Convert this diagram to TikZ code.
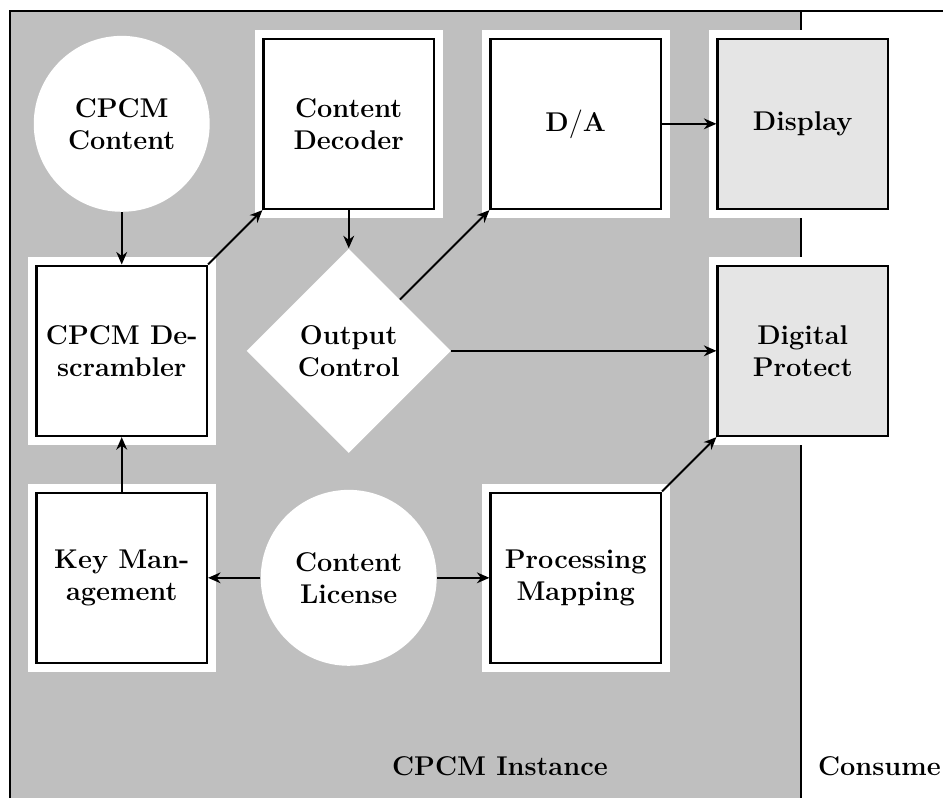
\documentclass[tikz,border=0pt]{standalone}
\usetikzlibrary{shapes.geometric,arrows.meta}

\tikzset{
  labeltext/.style={font=\fontsize{13.6}{16}\selectfont\bfseries, align=center},
  block/.style={labeltext, rectangle, draw=black, line width=1.2pt, fill=white,
    minimum width=3cm, minimum height=3cm, inner sep=2pt,
    preaction={draw=white, line width=0.32cm}},
  sinkblock/.style={block, fill=gray!20},
  roundnode/.style={labeltext, circle, fill=white, minimum size=3.1cm, inner sep=0pt},
  choice/.style={labeltext, diamond, fill=white, aspect=1, minimum size=3.6cm, inner sep=0pt},
  flow/.style={line width=1pt, -{Stealth[length=2.2mm,width=1.9mm,inset=0.7mm]}},
  frame/.style={line width=1pt}
}

\begin{document}
\begin{tikzpicture}
  \useasboundingbox (0,0) rectangle (16.617,14.062);

  % shaded instance area and surrounding frame
  \fill[black!25] (0.18,0) rectangle (14.12,13.87);
  \draw[frame] (0.18,0) -- (0.18,13.87) -- (16.617,13.87);
  \draw[frame] (14.12,13.87) -- (14.12,0);

  % building blocks
  \node[roundnode] (content) at (2.145,11.88) {CPCM\\Content};
  \node[block] (decoder) at (6.145,11.88) {Content\\Decoder};
  \node[block] (da) at (10.145,11.88) {D$/$A};
  \node[sinkblock] (display) at (14.145,11.88) {Display};

  \node[block] (descr) at (2.145,7.88) {CPCM De-\\scrambler};
  \node[choice] (outctl) at (6.145,7.88) {Output\\Control};
  \node[sinkblock] (protect) at (14.145,7.88) {Digital\\Protect};

  \node[block] (keymgmt) at (2.145,3.88) {Key Man-\\agement};
  \node[roundnode] (license) at (6.145,3.88) {Content\\License};
  \node[block] (mapping) at (10.145,3.88) {Processing\\Mapping};

  % data flow
  \draw[flow] (content) -- (descr);
  \draw[flow] (descr.north east) -- (decoder.south west);
  \draw[flow] (decoder) -- (outctl);
  \draw[flow] (outctl) -- (da.south west);
  \draw[flow] (da) -- (display);
  \draw[flow] (outctl) -- (protect);
  \draw[flow] (keymgmt) -- (descr);
  \draw[flow] (license) -- (keymgmt);
  \draw[flow] (license) -- (mapping);
  \draw[flow] (mapping.north east) -- (protect.south west);

  % area captions
  \node[labeltext, anchor=base] (instance) at (8.81,0.405) {CPCM Instance};
  \node[labeltext, anchor=base west, inner sep=0pt] (consumer) at (14.41,0.405) {Consume};
\end{tikzpicture}
\end{document}
